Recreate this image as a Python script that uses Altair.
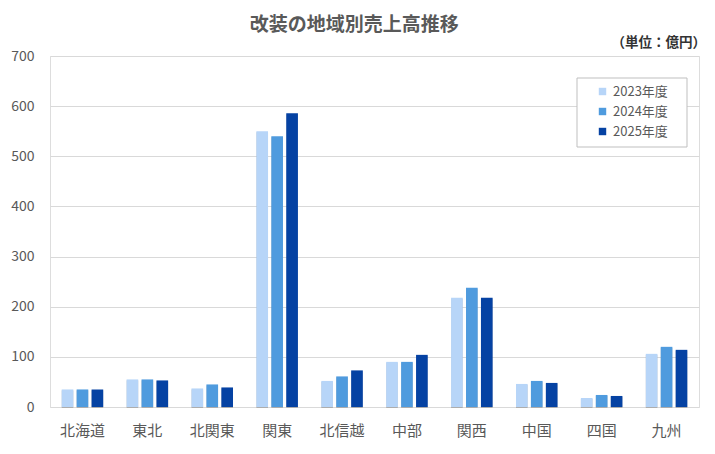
import altair as alt
import pandas as pd

regions = ["北海道", "東北", "北関東", "関東", "北信越", "中部", "関西", "中国", "四国", "九州"]
years = ["2023年度", "2024年度", "2025年度"]
v2023 = [35, 55, 37, 550, 52, 90, 218, 46, 18, 106]
v2024 = [35, 55, 45, 540, 61, 90, 238, 52, 24, 120]
v2025 = [35, 53, 39, 586, 73, 104, 218, 48, 22, 114]
colors = ["#b7d5f8", "#4f9bde", "#0542a3"]
title_text = "改装の地域別売上高推移"
unit_text = "（単位：億円）"
y_ticks = [0, 100, 200, 300, 400, 500, 600, 700]

rows = []
for i, r in enumerate(regions):
    for y, vals in zip(years, [v2023, v2024, v2025]):
        rows.append({"region": r, "year": y, "value": vals[i]})
df = pd.DataFrame(rows)

FONT = "Noto Sans CJK JP"
W, H = 649, 351

x_enc = alt.X("region:N", sort=regions, title=None,
              scale=alt.Scale(paddingInner=0.36, paddingOuter=0.18),
              axis=alt.Axis(labelAngle=0, labelFontSize=15, labelColor="#595959",
                            labelPadding=16, ticks=False, domain=False, grid=False,
                            labelFont=FONT))
xo_enc = alt.XOffset("year:N", sort=years, scale=alt.Scale(paddingInner=0.22))
y_enc = alt.Y("value:Q", title=None, scale=alt.Scale(domain=[0, 700], nice=False),
              axis=alt.Axis(values=y_ticks, labelFontSize=14, labelColor="#595959",
                            labelPadding=16, ticks=False, domain=False,
                            gridColor="#d9d9d9", gridWidth=1, labelFont=FONT))

base = alt.Chart(df).encode(x=x_enc, xOffset=xo_enc, y=y_enc)

shadow = base.mark_bar(color="#000000", opacity=0.2, xOffset=2.5, yOffset=1)
bars = base.mark_bar().encode(
    color=alt.Color("year:N", sort=years,
                    scale=alt.Scale(domain=years, range=colors),
                    legend=alt.Legend(title=None,
                                      orient="none", legendX=527, legendY=22,
                                      padding=7, rowPadding=6, symbolType="square",
                                      symbolSize=55, symbolStrokeWidth=0,
                                      labelFontSize=13, labelColor="#595959",
                                      labelFont=FONT, symbolOffset=12))
)

legend_box = alt.Chart(pd.DataFrame({"k": [0]})).mark_rect(
    fill="white", stroke="#bfbfbf", strokeWidth=1
).encode(x=alt.value(527), x2=alt.value(637), y=alt.value(22), y2=alt.value(91))

unit = alt.Chart(pd.DataFrame({"t": [unit_text]})).mark_text(
    align="right", baseline="middle", fontSize=13.5, font=FONT, color="#333333",
    fontWeight="bold"
).encode(x=alt.value(W + 7), y=alt.value(-13), text="t:N")

chart = alt.layer(shadow, bars, legend_box, unit).properties(
    width=W, height=H,
    title=alt.TitleParams(title_text, fontSize=19, font=FONT, fontWeight="bold",
                          color="#595959", anchor="middle", frame="bounds", offset=1, dx=-4),
    autosize=alt.AutoSizeParams(type="none"),
    padding={"left": 42, "top": 48, "right": 8, "bottom": 40},
).configure_view(fill="#f2f2f2", stroke=None).configure(background="white")

chart.save("out.html", embed_options={"renderer": "svg", "actions": False})
